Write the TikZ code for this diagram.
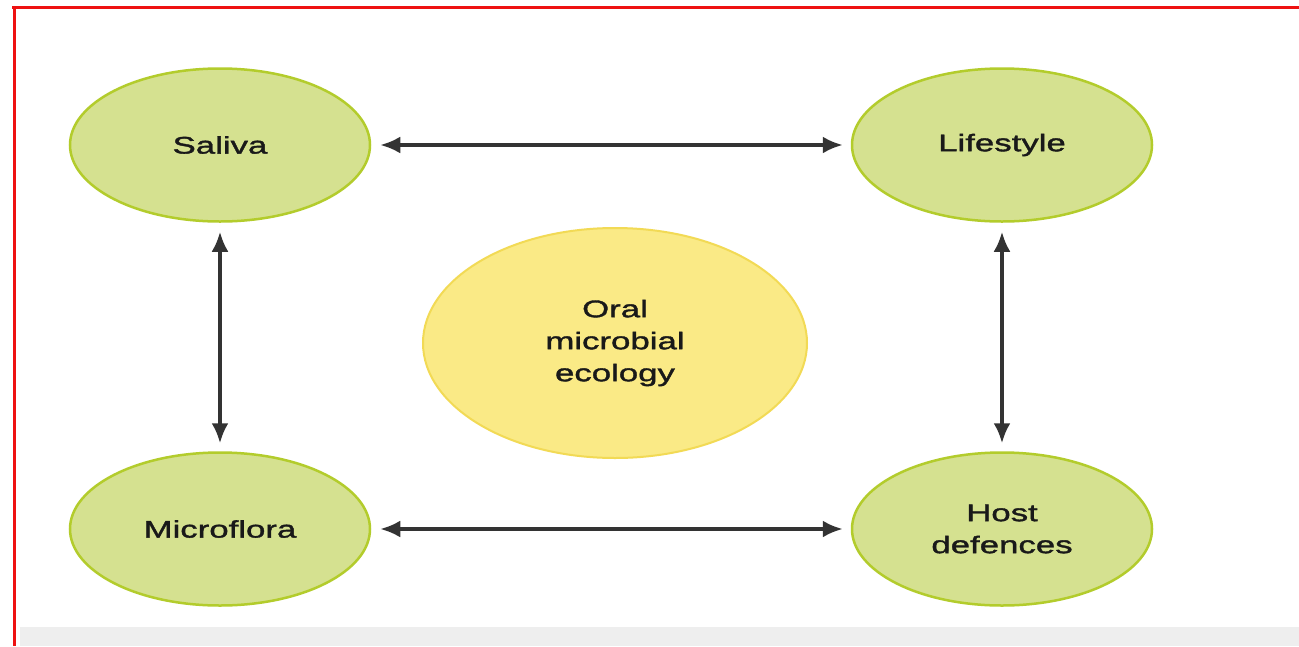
\documentclass[tikz,border=0pt]{standalone}
\usepackage{fontspec}
\setmainfont{Liberation Sans}
\newfontfamily\labelfont[FakeStretch=1.45,FakeBold=1.5]{Liberation Sans}
\usetikzlibrary{shapes.geometric,arrows.meta}
\definecolor{greenfill}{HTML}{D5E190}
\definecolor{greenline}{HTML}{B3CC2C}
\definecolor{yellowfill}{HTML}{FAEA86}
\definecolor{yellowline}{HTML}{F2DA55}
\definecolor{borderred}{HTML}{EE1111}
\definecolor{stripgray}{HTML}{EEEEEE}
\begin{document}
\begin{tikzpicture}[x=1pt,y=-1pt,
  factor/.style={ellipse, draw=greenline, fill=greenfill, line width=2.5pt,
    minimum width=300pt, minimum height=153pt, inner sep=0pt, align=center,
    font=\labelfont\fontsize{24}{32}\selectfont, text=black!90},
  core/.style={factor, draw=yellowline, fill=yellowfill, line width=2pt,
    minimum width=384pt, minimum height=230pt},
  link/.style={{Latex[length=20pt,width=17pt]}-{Latex[length=20pt,width=17pt]},
    line width=3.5pt, draw=black!80, shorten <=9pt, shorten >=8pt}
]
\useasboundingbox (0,0) rectangle (1299,646);
\fill[white] (0,0) rectangle (1299,646);
\fill[stripgray] (20,627) rectangle (1299,646);
\draw[borderred, line width=3pt] (12,7) -- (1299,7);
\draw[borderred, line width=3pt] (14,6) -- (14,646);

\node[factor] (saliva) at (220,145) {Saliva};
\node[factor] (lifestyle) at (1002,145) {Lifestyle};
\node[factor] (microflora) at (220,529) {Microflora};
\node[factor] (host) at (1002,529) {Host\\defences};
\node[core] (oral) at (615,343) {Oral\\microbial\\ecology};

\draw[link] (saliva) -- (lifestyle);
\draw[link] (microflora) -- (host);
\draw[link] (saliva) -- (microflora);
\draw[link] (lifestyle) -- (host);
\end{tikzpicture}
\end{document}
